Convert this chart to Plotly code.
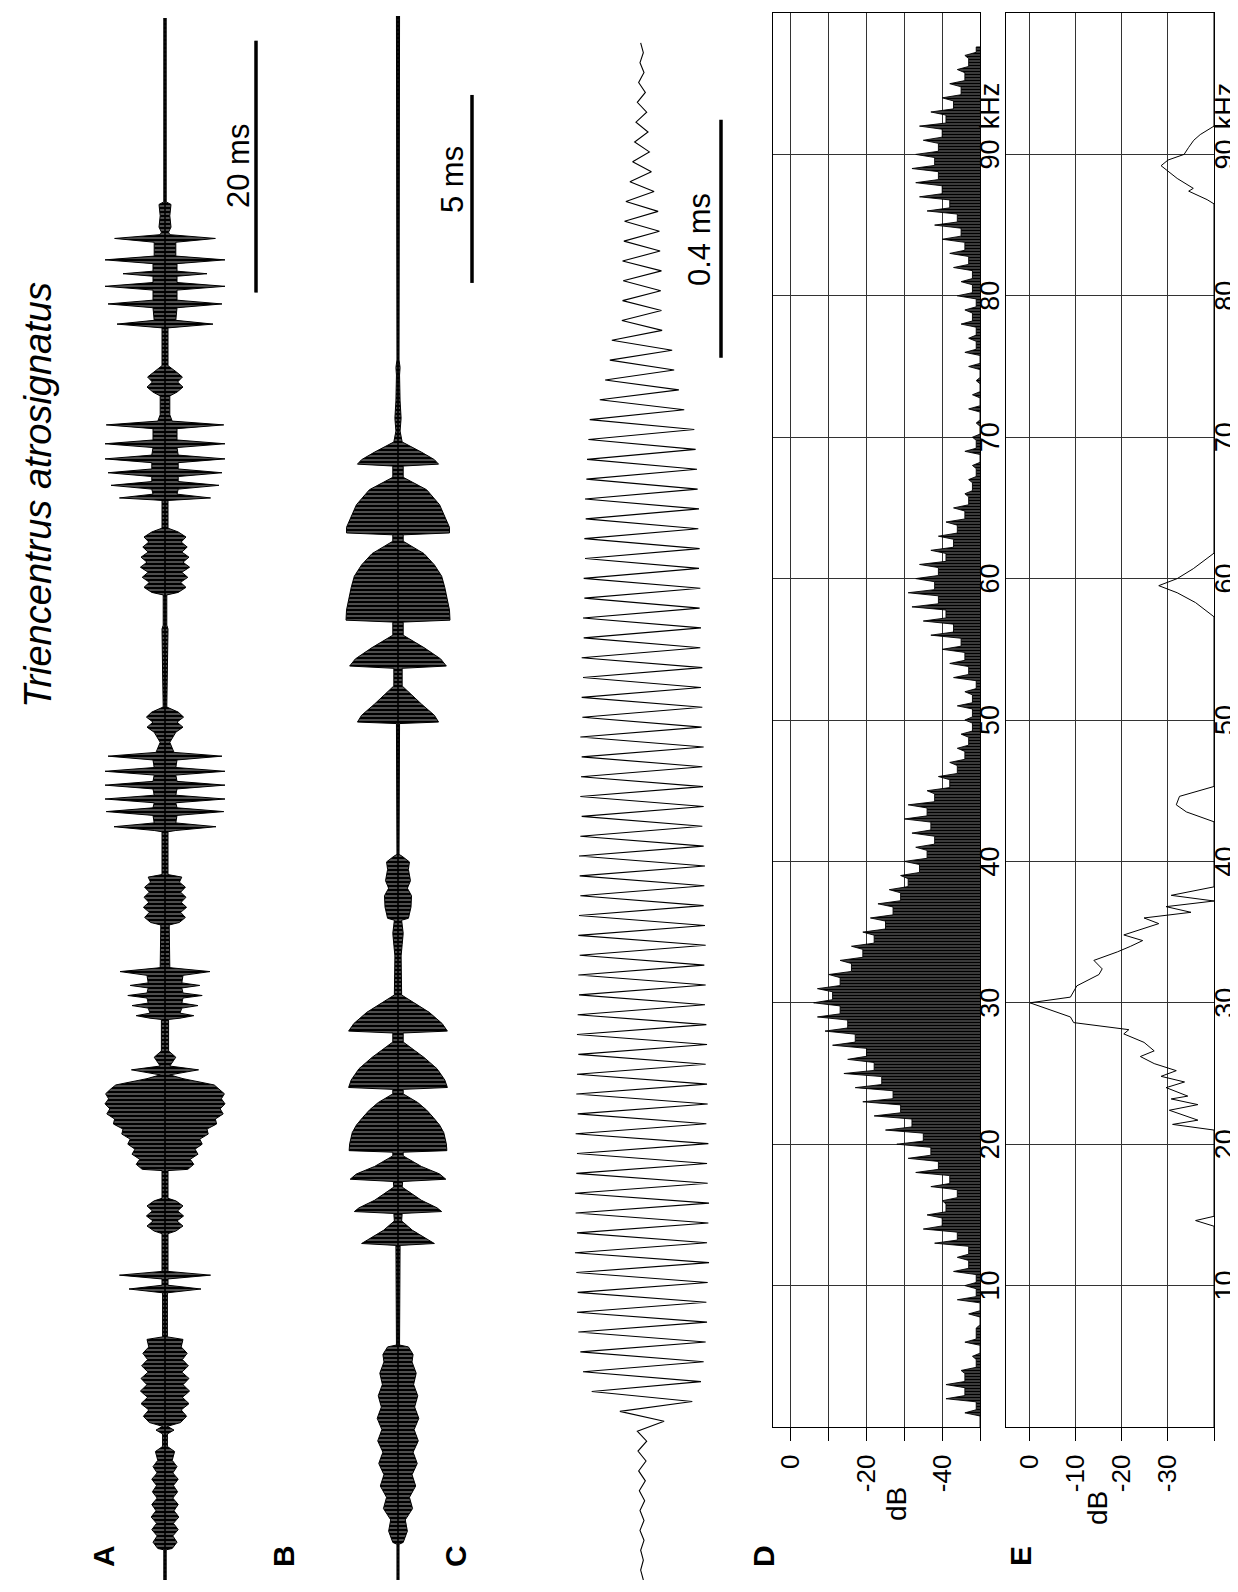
import plotly.graph_objects as go

W, H = 1238, 1592
def px(x): return x / W
def py(y): return 1 - y / H

FONT = "Liberation Sans, Arial, sans-serif"

TITLE = "Triencentrus atrosignatus"
PANEL_LABELS = ["A", "B", "C", "D", "E"]
SCALE_LABELS = ["20 ms", "5 ms", "0.4 ms"]
SCALE_LENGTHS_MS = [20, 5, 0.4]

# ---- A: oscillogram envelope (time ms, relative amplitude %) ----
A_env = [
    (0, 2), (2.4, 2), (2.5, 12), (3.0, 20), (3.5, 13), (4.0, 22), (4.5, 14), (5.0, 23), (5.5, 15),
    (6.0, 22), (6.5, 13), (7.0, 21), (7.5, 14), (8.0, 22), (8.5, 13), (9.0, 20), (9.5, 12), (10.2, 16),
    (10.6, 4), (11.6, 4), (11.9, 15), (12.2, 4), (12.5, 26), (13.0, 36), (13.5, 27), (14.0, 40),
    (14.5, 29), (15.0, 41), (15.5, 30), (16.0, 40), (16.5, 28), (17.0, 39), (17.5, 29), (18.0, 37),
    (18.5, 27), (19.1, 30), (19.3, 4), (22.8, 4), (23.1, 60), (23.4, 5), (23.9, 5), (24.2, 76),
    (24.5, 5), (27.5, 5), (27.7, 18), (28.1, 30), (28.5, 20), (28.9, 31), (29.3, 21), (29.7, 30),
    (30.1, 18), (30.3, 5), (32.5, 5), (32.6, 38), (33.0, 48), (33.4, 42), (33.8, 55), (34.2, 50),
    (34.6, 62), (35.0, 58), (35.4, 72), (35.8, 70), (36.2, 86), (36.6, 84), (37.0, 97), (37.4, 92),
    (37.8, 100), (38.2, 94), (38.6, 99), (39.0, 90), (39.3, 82), (39.8, 30), (40.1, 8), (40.5, 56),
    (40.8, 8), (41.5, 18), (42.0, 6), (44.5, 6), (44.6, 25), (44.8, 48), (45.0, 25), (45.4, 28),
    (45.6, 55), (45.8, 28), (46.2, 30), (46.4, 62), (46.6, 30), (47.0, 28), (47.2, 58), (47.4, 28),
    (48.0, 30), (48.3, 75), (48.6, 10), (48.7, 8), (52.0, 7), (52.2, 24), (52.6, 34), (53.0, 26),
    (53.4, 36), (53.8, 27), (54.2, 35), (54.6, 26), (55.0, 34), (55.4, 24), (55.8, 28), (56.0, 5),
    (59.4, 5), (59.5, 18), (59.8, 85), (60.1, 18), (60.7, 20), (61.0, 98), (61.3, 20), (61.7, 18),
    (62.0, 100), (62.3, 18), (62.8, 20), (63.1, 100), (63.4, 20), (63.9, 18), (64.2, 100), (64.5, 18),
    (65.1, 20), (65.4, 95), (65.7, 15), (66.5, 8), (67.3, 18), (67.7, 30), (68.1, 20), (68.5, 31),
    (68.9, 22), (69.3, 3), (72.0, 4), (72.3, 3), (75.5, 5), (75.8, 3), (78.2, 3), (78.4, 22),
    (78.8, 35), (79.2, 26), (79.6, 38), (80.0, 28), (80.4, 41), (80.8, 30), (81.2, 40), (81.6, 28),
    (82.0, 37), (82.4, 27), (82.8, 35), (83.2, 22), (83.5, 5), (85.7, 5), (85.75, 20), (85.9, 76),
    (86.2, 20), (86.6, 22), (86.9, 90), (87.2, 22), (87.6, 22), (87.9, 95), (88.2, 22), (88.7, 22),
    (89.0, 100), (89.3, 22), (89.9, 20), (90.2, 100), (90.5, 20), (91.4, 20), (91.7, 98), (92.0, 12),
    (92.5, 8), (94.0, 8), (94.3, 20), (94.7, 30), (95.1, 21), (95.5, 29), (95.9, 19), (96.4, 5),
    (99.4, 5), (99.45, 18), (99.7, 80), (100.0, 18), (101.0, 20), (101.3, 95), (101.6, 20),
    (102.4, 20), (102.7, 100), (103.0, 20), (103.5, 20), (103.7, 70), (103.9, 20), (104.5, 20),
    (104.8, 100), (105.1, 18), (106.2, 18), (106.5, 84), (106.8, 8), (107.0, 6), (107.4, 10),
    (108.3, 8), (109.2, 10), (109.4, 2), (124, 2),
]

# ---- B: oscillogram envelope (time ms, relative amplitude %) ----
B_env = [
    (0, 2), (0.95, 2), (1.0, 10), (1.3, 18), (1.6, 14), (1.9, 28), (2.2, 22), (2.5, 34), (2.8, 27),
    (3.1, 37), (3.4, 29), (3.7, 39), (4.0, 31), (4.3, 40), (4.6, 32), (4.9, 38), (5.2, 30), (5.5, 35),
    (5.8, 27), (6.0, 29), (6.2, 20), (6.25, 3), (8.9, 4), (8.95, 70), (9.05, 58), (9.3, 28),
    (9.55, 7), (9.75, 8), (9.8, 84), (9.9, 75), (10.1, 45), (10.45, 8), (10.6, 9), (10.66, 92),
    (10.8, 80), (11.0, 45), (11.28, 10), (11.38, 10), (11.42, 94), (11.6, 93), (11.9, 88), (12.1, 80),
    (12.3, 68), (12.5, 55), (12.7, 38), (12.93, 10), (13.05, 10), (13.1, 95), (13.3, 90), (13.6, 75),
    (13.9, 50), (14.31, 10), (14.55, 10), (14.6, 95), (14.8, 85), (15.1, 60), (15.56, 7), (16.6, 6),
    (16.9, 8), (17.2, 10), (17.55, 7), (17.6, 20), (17.9, 25), (18.2, 26), (18.4, 18), (18.6, 24),
    (18.9, 20), (19.1, 22), (19.25, 8), (19.3, 2), (22.78, 3), (22.82, 78), (23.0, 70), (23.3, 45),
    (23.78, 8), (24.25, 8), (24.31, 93), (24.5, 82), (24.8, 50), (25.13, 10), (25.48, 10), (25.53, 100),
    (25.8, 99), (26.1, 95), (26.4, 90), (26.7, 84), (27.0, 70), (27.3, 50), (27.63, 10), (27.8, 10),
    (27.85, 99), (28.0, 99), (28.3, 90), (28.6, 80), (29.0, 55), (29.33, 10), (29.63, 10), (29.68, 78),
    (29.8, 70), (30.0, 45), (30.27, 8), (30.56, 4), (30.9, 6), (31.36, 4), (32.05, 3), (32.25, 4),
    (32.45, 2), (36.4, 2), (36.5, 3), (41.6, 3),
]

# ---- C: peak amplitude (%) of each carrier cycle, in time order ----
C_cycle_ms = 1 / 30
C_peaks = [
    2, 2, 3, 3, 4, 5, 6, 7,
    33, 75,
    88, 92, 95, 97, 96, 98, 100, 97, 99, 100,
    98, 97, 99, 96, 98, 97, 95, 97, 96, 94,
    95, 93, 95, 94, 92, 93, 94, 92, 90, 92,
    91, 90, 92, 89, 90, 88, 90, 87, 88, 86,
    87, 85, 86, 84, 85, 83, 82, 80, 78,
    63, 55, 48, 45,
    30, 29, 28, 29, 27, 26, 24,
    18, 14, 11, 9, 7, 5,
    3, 2,
]

# ---- D: noisy spectrum, 1 kHz steps: spike tips (dB) and band body (dB) ----
D_freq = list(range(0, 98))
D_peak = [
    -50, -46, -41, -41, -45, -48, -46, -49, -47, -44, -46, -43, -44, -38, -35, -36, -40, -37, -33, -31,
    -28, -25, -22, -19, -17, -14, -15, -11, -9, -7, -6, -7, -10, -13, -16, -19, -21, -23, -26, -29,
    -30, -33, -32, -30, -31, -36, -39, -42, -44, -45, -46, -44, -46, -43, -42, -40, -37, -35, -32, -31,
    -33, -34, -37, -39, -41, -43, -46, -47, -48, -46, -48, -49, -47, -48, -49, -47, -46, -47, -45, -46,
    -44, -45, -43, -42, -40, -38, -36, -34, -33, -32, -33, -35, -34, -37, -40, -42, -44, -46,
]
D_body = [
    -50, -49, -46, -46, -49, -50, -49, -50, -50, -49, -49, -47, -47, -44, -40, -41, -44, -42, -39, -37,
    -35, -32, -29, -27, -24, -22, -20, -17, -15, -13, -11, -13, -16, -19, -22, -25, -27, -29, -31, -34,
    -36, -38, -37, -36, -38, -42, -44, -46, -47, -48, -48, -48, -49, -47, -46, -45, -43, -41, -39, -38,
    -39, -41, -43, -44, -46, -47, -48, -49, -50, -49, -50, -50, -50, -50, -50, -50, -49, -49, -48, -49,
    -48, -48, -47, -46, -45, -44, -42, -40, -39, -38, -39, -40, -41, -43, -45, -46, -47, -49,
]

# ---- E: smoothed spectrum (kHz, dB), clipped at -40 dB ----
E_curve = [
    (0, -40), (14.2, -40), (14.6, -36), (14.9, -40), (21.0, -40), (21.4, -31), (21.7, -36.5),
    (22.4, -30.3), (22.8, -36.5), (23.2, -30.7), (23.4, -34.3), (24.0, -29.6), (24.4, -33.6),
    (24.8, -28.5), (25.2, -31.8), (25.7, -27), (26.2, -24), (26.6, -27), (27.2, -24.8), (27.8, -20.4),
    (28.1, -21.5), (28.6, -9.5), (29.0, -8.8), (30.0, 0), (30.4, -8.8), (31.2, -10.2), (32.0, -15),
    (32.4, -15.7), (33.0, -13.9), (33.6, -19), (34.0, -21.9), (34.4, -24.5), (34.8, -20.4), (35.2, -24),
    (35.6, -28), (36.0, -24.8), (36.4, -35), (36.8, -29.6), (37.2, -40), (37.6, -30.7), (38.2, -40),
    (42.8, -40), (43.5, -34), (44.0, -31.8), (44.6, -32.5), (45.3, -40), (57.3, -40), (58.3, -36),
    (59.0, -32), (59.5, -28), (60.0, -32), (60.7, -35.5), (61.3, -38), (61.8, -40), (86.5, -40),
    (86.8, -38.5), (87.4, -34.5), (87.6, -35.5), (88.3, -32), (89.2, -28.5), (89.6, -30), (90.0, -33.5),
    (90.5, -34.5), (91.0, -35.6), (91.4, -37), (91.8, -39), (92.0, -40), (100, -40),
]

FREQ_TICKS = [10, 20, 30, 40, 50, 60, 70, 80, 90]
D_DB_TICKS = [0, -10, -20, -30, -40, -50]
D_DB_TEXT = ["0", "", "-20", "", "-40", ""]
E_DB_TICKS = [0, -10, -20, -30, -40]
E_DB_TEXT = ["0", "-10", "-20", "-30", ""]

fig = go.Figure()


def envelope_polygon(env):
    t = [p[0] for p in env]
    a = [p[1] for p in env]
    return a + [-v for v in a[::-1]], t + t[::-1]


stripes = dict(shape="-", fgcolor="black", bgcolor="white", size=4, solidity=0.85, fillmode="replace")

for env, xa, ya in [(A_env, "x", "y"), (B_env, "x2", "y2")]:
    xs, ys = envelope_polygon(env)
    fig.add_trace(go.Scatter(x=xs, y=ys, mode="lines", fill="toself", fillcolor="white",
                             fillpattern=stripes,
                             line=dict(color="black", width=1), xaxis=xa, yaxis=ya,
                             hoverinfo="skip", showlegend=False))
    fig.add_trace(go.Scatter(x=[0, 0], y=[env[0][0], env[-1][0]], mode="lines",
                             line=dict(color="black", width=1.6), xaxis=xa, yaxis=ya,
                             hoverinfo="skip", showlegend=False))

cx, cy = [], []
for k, a in enumerate(C_peaks):
    cx += [a, -a]
    cy += [k * C_cycle_ms, (k + 0.5) * C_cycle_ms]
fig.add_trace(go.Scatter(x=cx, y=cy, mode="lines", line=dict(color="black", width=1.1),
                         xaxis="x3", yaxis="y3", hoverinfo="skip", showlegend=False))

# D: body of the band with thin spikes at each spectral line
dx, dy = [-50], [D_freq[0]]
for i, f in enumerate(D_freq):
    prev_body = D_body[i - 1] if i > 0 else D_body[0]
    dx += [prev_body, D_peak[i], D_body[i]]
    dy += [f - 0.22, f, f + 0.22]
dx += [D_body[-1], -50]
dy += [D_freq[-1] + 0.6, D_freq[-1] + 0.6]
fig.add_trace(go.Scatter(x=dx, y=dy, mode="lines", fill="toself", fillcolor="white",
                         fillpattern=dict(shape="-", fgcolor="black", bgcolor="white", size=3,
                                          solidity=0.85, fillmode="replace"),
                         line=dict(color="black", width=0.9), xaxis="x4", yaxis="y4",
                         hoverinfo="skip", showlegend=False))

fig.add_trace(go.Scatter(x=[p[1] for p in E_curve], y=[p[0] for p in E_curve], mode="lines",
                         line=dict(color="black", width=1), xaxis="x5", yaxis="y5",
                         hoverinfo="skip", showlegend=False))

hidden = dict(visible=False, fixedrange=True)
lay = dict(
    xaxis=dict(domain=[px(87), px(227)], range=[-116.7, 116.7], anchor="y", **hidden),
    yaxis=dict(domain=[py(1572), py(10)], range=[0, 124], anchor="x", **hidden),
    xaxis2=dict(domain=[px(330), px(450)], range=[-115.4, 115.4], anchor="y2", **hidden),
    yaxis2=dict(domain=[py(1572), py(8)], range=[0, 41.6], anchor="x2", **hidden),
    xaxis3=dict(domain=[px(559), px(709)], range=[-111.9, 111.9], anchor="y3", **hidden),
    yaxis3=dict(domain=[py(1572), py(10)], range=[0, 2.625], anchor="x3", **hidden),
)

tick_font = dict(family=FONT, size=26, color="black")
for i, (dom, rng, tv, tt) in enumerate([
        ((765, 972), [4.76, -50], D_DB_TICKS, D_DB_TEXT),
        ((998, 1206), [5.2, -40], E_DB_TICKS, E_DB_TEXT)], start=4):
    lay[f"xaxis{i}"] = dict(domain=[px(dom[0]), px(dom[1])], range=rng, anchor=f"y{i}",
                            tickvals=tv, ticktext=tt, ticks="outside", ticklen=13, tickwidth=1,
                            tickcolor="black", tickangle=-90, tickfont=tick_font,
                            ticklabelstandoff=3,
                            showgrid=True, gridcolor="#333", gridwidth=1, zeroline=False,
                            showline=True, linecolor="black", linewidth=1.3, mirror=True,
                            fixedrange=True)
    lay[f"yaxis{i}"] = dict(domain=[py(1419), py(5)], range=[0, 100], anchor=f"x{i}",
                            tickvals=FREQ_TICKS, showticklabels=False, ticks="",
                            showgrid=True, gridcolor="#333", gridwidth=1, zeroline=False,
                            showline=True, linecolor="black", linewidth=1.3, mirror=True,
                            fixedrange=True)

fig.update_layout(**lay)

shapes = []
for (yref, t0, length), xb in zip([("y", 102.2, SCALE_LENGTHS_MS[0]),
                                    ("y2", 34.5, SCALE_LENGTHS_MS[1]),
                                    ("y3", 2.054, SCALE_LENGTHS_MS[2])], [248, 464, 713]):
    shapes.append(dict(type="line", xref="paper", yref=yref, x0=px(xb), x1=px(xb),
                       y0=t0, y1=t0 + length, line=dict(color="black", width=3.5)))

ann = []
def text(x, y, s, size, **kw):
    d = dict(x=px(x), y=py(y), xref="paper", yref="paper", text=s, showarrow=False,
             textangle=-90, xanchor="center", yanchor="middle",
             font=dict(family=FONT, size=size, color="black"))
    d.update(kw)
    ann.append(d)

text(30, 487, "<i>" + TITLE + "</i>", 38)
for s, (x, y) in zip(SCALE_LABELS, [(230, 158), (445, 172), (692, 232)]):
    text(x, y, s, 31)
for s, (x, y) in zip(PANEL_LABELS, [(95, 1548), (275, 1548), (447, 1548), (755, 1548), (1012, 1548)]):
    text(x, y, "<b>" + s + "</b>", 30)
text(888, 1496, "dB", 28)
text(1089, 1500, "dB", 28)

for yr, xp in [("y4", 982), ("y5", 1217)]:
    for f in FREQ_TICKS:
        ann.append(dict(x=px(xp), y=f, xref="paper", yref=yr, text=str(f), showarrow=False,
                        textangle=-90, xanchor="center", yanchor="middle",
                        font=dict(family=FONT, size=27, color="black")))
    ann.append(dict(x=px(xp), y=93.4, xref="paper", yref=yr, text="kHz", showarrow=False,
                    textangle=-90, xanchor="center", yanchor="middle",
                    font=dict(family=FONT, size=27, color="black")))

fig.update_layout(width=W, height=H, autosize=False, margin=dict(l=0, r=0, t=0, b=0),
                  paper_bgcolor="white", plot_bgcolor="white", showlegend=False,
                  shapes=shapes, annotations=ann)

fig.write_html("out.html")
